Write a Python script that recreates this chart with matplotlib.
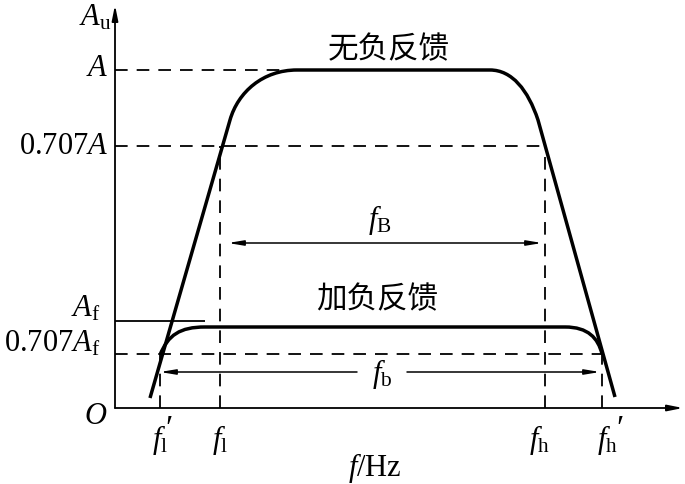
import matplotlib
matplotlib.use("Agg")
import matplotlib.pyplot as plt
from matplotlib.path import Path
from matplotlib.patches import PathPatch

plt.rcParams['mathtext.fontset'] = 'custom'
plt.rcParams['mathtext.rm'] = 'Liberation Serif'
plt.rcParams['mathtext.it'] = 'Liberation Serif:italic'
plt.rcParams['font.family'] = ['Liberation Serif', 'Noto Sans CJK SC', 'DejaVu Sans']

# ---- data (schematic units: frequency along x, gain along y) ----
# characteristic frequencies
f_l_fb = 45      # f_l'
f_l = 105        # f_l
f_h = 430        # f_h
f_h_fb = 487     # f_h'
# gain levels
A = 338
A_707 = 262
A_f_mark = 87
A_f = 81
A_f_707 = 54
# no-feedback curve key points (start, knee-in, flat start, flat end, knee-out, end)
nofb_x = [35, 115, 123, 148, 182, 375, 397, 413, 423, 500]
nofb_y = [10, 288, 316, 338, 338, 338, 338, 318, 288, 11]
# feedback curve key points
fb_x = [45, 53, 65, 90, 450, 473, 483, 487]
fb_y = [53, 73, 81, 81, 81, 81, 70, 54]
# bandwidth arrows
fB_level = 165
fB_span = [113, 427]
fb_level = 36
fb_span = [45, 485]
fb_gap = [242, 292]
# labels
cn_nofb = '无负反馈'
cn_fb = '加负反馈'

fig = plt.figure(figsize=(6.85, 4.84), dpi=100)
ax = fig.add_axes([0, 0, 1, 1])
ax.set_xlim(-115, 570)
ax.set_ylim(-76, 408)
ax.axis('off')

# axes with arrows
ax.annotate('', xy=(0, 403), xytext=(0, 0),
            arrowprops=dict(arrowstyle='-|>,head_length=0.9,head_width=0.18', lw=1.3, color='black',
                            shrinkA=0, shrinkB=0))
ax.annotate('', xy=(568, 0), xytext=(0, 0),
            arrowprops=dict(arrowstyle='-|>,head_length=0.9,head_width=0.18', lw=1.3, color='black',
                            shrinkA=0, shrinkB=0))

dash = dict(color='black', lw=1.3, linestyles=(0, (7, 5)))
# horizontal dashed reference lines
ax.hlines(A, 0, 178, **dash)
ax.hlines(A_707, 0, 430, **dash)
ax.hlines(A_f_707, 0, f_h_fb, **dash)
# vertical dashed lines
ax.vlines(f_l, 0, A_707, **dash)
ax.vlines(f_h, 0, A_707, **dash)
ax.vlines(f_l_fb, 0, A_f_707, **dash)
ax.vlines(f_h_fb, 0, A_f_707, **dash)
# A_f marker line
ax.hlines(A_f_mark, 0, 90, color='black', lw=1.3)

# no-feedback curve
codes = [Path.MOVETO, Path.LINETO, Path.CURVE4, Path.CURVE4, Path.CURVE4,
         Path.LINETO, Path.CURVE4, Path.CURVE4, Path.CURVE4, Path.LINETO]
p = Path(list(zip(nofb_x, nofb_y)), codes)
ax.add_patch(PathPatch(p, facecolor='none', edgecolor='black', lw=2.5, capstyle='butt'))

# feedback curve
codes2 = [Path.MOVETO, Path.CURVE4, Path.CURVE4, Path.CURVE4,
          Path.LINETO, Path.CURVE4, Path.CURVE4, Path.CURVE4]
p2 = Path(list(zip(fb_x, fb_y)), codes2)
ax.add_patch(PathPatch(p2, facecolor='none', edgecolor='black', lw=2.5))

# bandwidth arrows
aprops = dict(arrowstyle='-|>,head_length=0.9,head_width=0.15', lw=1.1, color='black',
              shrinkA=0, shrinkB=0)
ax.annotate('', xy=(fB_span[0], fB_level), xytext=(fB_span[1], fB_level),
            arrowprops=dict(aprops, arrowstyle='<|-|>,head_length=0.9,head_width=0.15'))
ax.annotate('', xy=(fb_span[0], fb_level), xytext=(fb_gap[0], fb_level), arrowprops=aprops)
ax.annotate('', xy=(fb_span[1], fb_level), xytext=(fb_gap[1], fb_level), arrowprops=aprops)

fs = 22
ax.text(265, 188, r'$f_{\mathrm{B}}$', fontsize=fs, ha='center', va='center')
ax.text(267, 34, r'$f_{\mathrm{b}}$', fontsize=fs, ha='center', va='center')

ax.text(274, 358, cn_nofb, fontsize=22, ha='center', va='center', family=['Noto Sans CJK SC'])
ax.text(262, 108, cn_fb, fontsize=22, ha='center', va='center', family=['Noto Sans CJK SC'])

# y labels
ax.text(-7, 339, r'$A$', fontsize=fs, ha='right', va='center')
ax.text(-7, 262, r'$0.707A$', fontsize=fs, ha='right', va='center')
ax.text(-15, 99, r'$A_{\mathrm{f}}$', fontsize=fs, ha='right', va='center')
ax.text(-15, 64, r'$0.707A_{\mathrm{f}}$', fontsize=fs, ha='right', va='center')
ax.text(-3, 390, r'$A_{\mathrm{u}}$', fontsize=fs, ha='right', va='center')
ax.text(-19, -8, r'$O$', fontsize=fs, ha='center', va='center')

# x labels
ax.text(f_l_fb, -32, r"$f_{\mathrm{l}}$", fontsize=fs, ha='center', va='center')
ax.text(f_l_fb + 9, -22, "\u2032", fontsize=24, ha='center', va='center')
ax.text(f_l, -32, r"$f_{\mathrm{l}}$", fontsize=fs, ha='center', va='center')
ax.text(f_h - 6, -32, r"$f_{\mathrm{h}}$", fontsize=fs, ha='center', va='center')
ax.text(f_h_fb + 5, -32, r"$f_{\mathrm{h}}$", fontsize=fs, ha='center', va='center')
ax.text(f_h_fb + 18, -22, "\u2032", fontsize=24, ha='center', va='center')
ax.text(260, -60, r'$f/\mathrm{Hz}$', fontsize=fs, ha='center', va='center')

fig.savefig('out.png', dpi=100)
